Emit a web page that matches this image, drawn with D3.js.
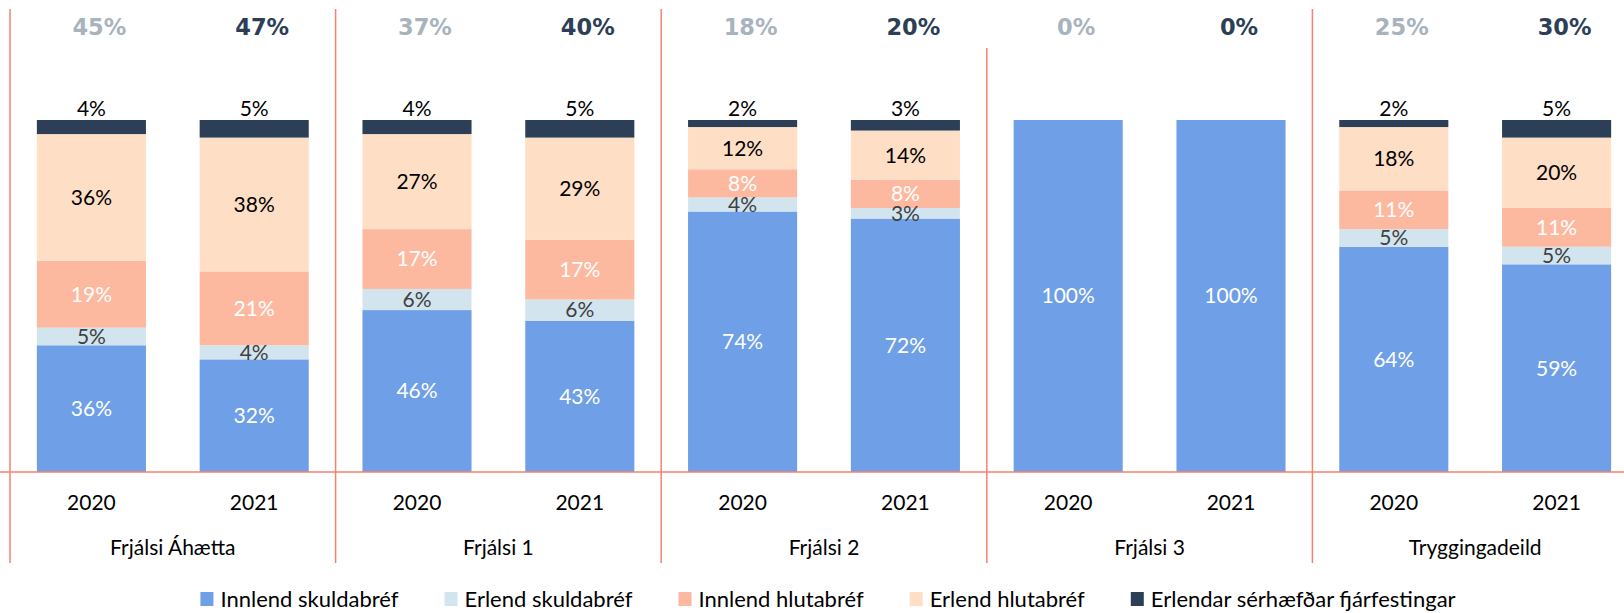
<!DOCTYPE html>
<html>
<head>
<meta charset="utf-8">
<script src="https://cdn.jsdelivr.net/npm/d3@7"></script>
<style>
  body { margin: 0; background: #fff; }
  svg { display: block; font-family: Lato, "Open Sans", sans-serif; }
</style>
</head>
<body>
<svg id="chart" width="1624" height="613"></svg>
<script>
// categories
const groups = ["Frjálsi Áhætta", "Frjálsi 1", "Frjálsi 2", "Frjálsi 3", "Tryggingadeild"];
const years = ["2020", "2021"];
const seriesNames = ["Innlend skuldabréf", "Erlend skuldabréf", "Innlend hlutabréf", "Erlend hlutabréf", "Erlendar sérhæfðar fjárfestingar"];

// values per bar, in order: group1-2020, group1-2021, group2-2020, ...
const innlendSkuld  = [36, 32, 46, 43, 74, 72, 100, 100, 64, 59];
const erlendSkuld   = [5, 4, 6, 6, 4, 3, 0, 0, 5, 5];
const innlendHluta  = [19, 21, 17, 17, 8, 8, 0, 0, 11, 11];
const erlendHluta   = [36, 38, 27, 29, 12, 14, 0, 0, 18, 20];
const serhaefdar    = [4, 5, 4, 5, 2, 3, 0, 0, 2, 5];
const topLabels     = [45, 47, 37, 40, 18, 20, 0, 0, 25, 30];

const colors = ["#6f9fe6", "#d2e5ef", "#fdb9a0", "#fedec5", "#2c3f57"];
const labelColors = ["#ffffff", "#404040", "#ffffff", "#000000", "#000000"];
const lineColor = "#f4826f";

const rows = [];
groups.forEach((g, gi) => {
  years.forEach((yr, yi) => {
    const i = gi * 2 + yi;
    rows.push({
      group: g, year: yr, top: topLabels[i],
      [seriesNames[0]]: innlendSkuld[i],
      [seriesNames[1]]: erlendSkuld[i],
      [seriesNames[2]]: innlendHluta[i],
      [seriesNames[3]]: erlendHluta[i],
      [seriesNames[4]]: serhaefdar[i]
    });
  });
});

const svg = d3.select("#chart");
const baseY = 472, topY = 120;

const x0 = d3.scaleBand().domain(groups).range([10, 10 + 5 * 325.6]).padding(0);
const x1 = d3.scaleBand().domain(years).range([0, x0.bandwidth()])
  .paddingInner(0.33).paddingOuter(0.165);
const y = d3.scaleLinear().domain([0, 100]).range([baseY, topY]);

const stack = d3.stack().keys(seriesNames);
const stacked = stack(rows);

const barX = d => x0(d.data.group) + x1(d.data.year);

// bars
const layers = svg.append("g").selectAll("g")
  .data(stacked)
  .join("g")
  .attr("fill", (d, i) => colors[i]);

layers.selectAll("rect")
  .data(d => d)
  .join("rect")
  .attr("x", barX)
  .attr("y", d => y(d[1]))
  .attr("width", x1.bandwidth())
  .attr("height", d => y(d[0]) - y(d[1]));

// segment labels
stacked.forEach((layer, si) => {
  svg.append("g").selectAll("text")
    .data(layer.filter(d => d[1] - d[0] > 0))
    .join("text")
    .attr("x", d => barX(d) + x1.bandwidth() / 2)
    .attr("y", d => si === 4 ? y(d[1]) - 4 : (y(d[0]) + y(d[1])) / 2)
    .attr("dy", si === 4 ? "0" : "0.35em")
    .attr("text-anchor", "middle")
    .attr("font-size", 21)
    .attr("fill", labelColors[si])
    .text(d => (d[1] - d[0]) + "%");
});

// grid lines
const lines = svg.append("g").attr("stroke", lineColor).attr("stroke-width", 1.5);
lines.append("line").attr("x1", 0).attr("x2", 1624).attr("y1", baseY).attr("y2", baseY);
groups.forEach((g, gi) => {
  lines.append("line")
    .attr("x1", x0(g)).attr("x2", x0(g))
    .attr("y1", gi === 3 ? 48 : 9).attr("y2", 563);
});

// top percentage labels
svg.append("g").selectAll("text")
  .data(rows)
  .join("text")
  .attr("x", d => x0(d.group) + x1(d.year) + x1.bandwidth() / 2 + 8)
  .attr("y", 35)
  .attr("text-anchor", "middle")
  .attr("font-family", "'DejaVu Sans', Verdana, sans-serif")
  .attr("font-weight", "bold")
  .attr("font-size", 22.5)
  .attr("fill", d => d.year === "2020" ? "#a9b3be" : "#2c3f57")
  .text(d => d.top + "%");

// year labels
svg.append("g").selectAll("text")
  .data(rows)
  .join("text")
  .attr("x", d => x0(d.group) + x1(d.year) + x1.bandwidth() / 2)
  .attr("y", 510)
  .attr("text-anchor", "middle")
  .attr("font-size", 21)
  .attr("fill", "#000")
  .text(d => d.year);

// group labels
svg.append("g").selectAll("text")
  .data(groups)
  .join("text")
  .attr("x", d => x0(d) + x0.bandwidth() / 2)
  .attr("y", 555)
  .attr("text-anchor", "middle")
  .attr("font-size", 21)
  .attr("fill", "#000")
  .text(d => d);

// legend
const legend = svg.append("g");
let lx = 0;
seriesNames.forEach((name, i) => {
  const item = legend.append("g").attr("transform", `translate(${lx},0)`);
  item.append("rect").attr("x", 0).attr("y", -7).attr("width", 13).attr("height", 14).attr("fill", colors[i]);
  const t = item.append("text").attr("x", 20).attr("y", 0).attr("dy", "0.35em")
    .attr("font-size", 22).attr("fill", "#000").text(name);
  lx += 20 + t.node().getComputedTextLength() + 46;
});
const legendWidth = lx - 46;
legend.attr("transform", `translate(${828 - legendWidth / 2},599)`);
</script>
</body>
</html>
